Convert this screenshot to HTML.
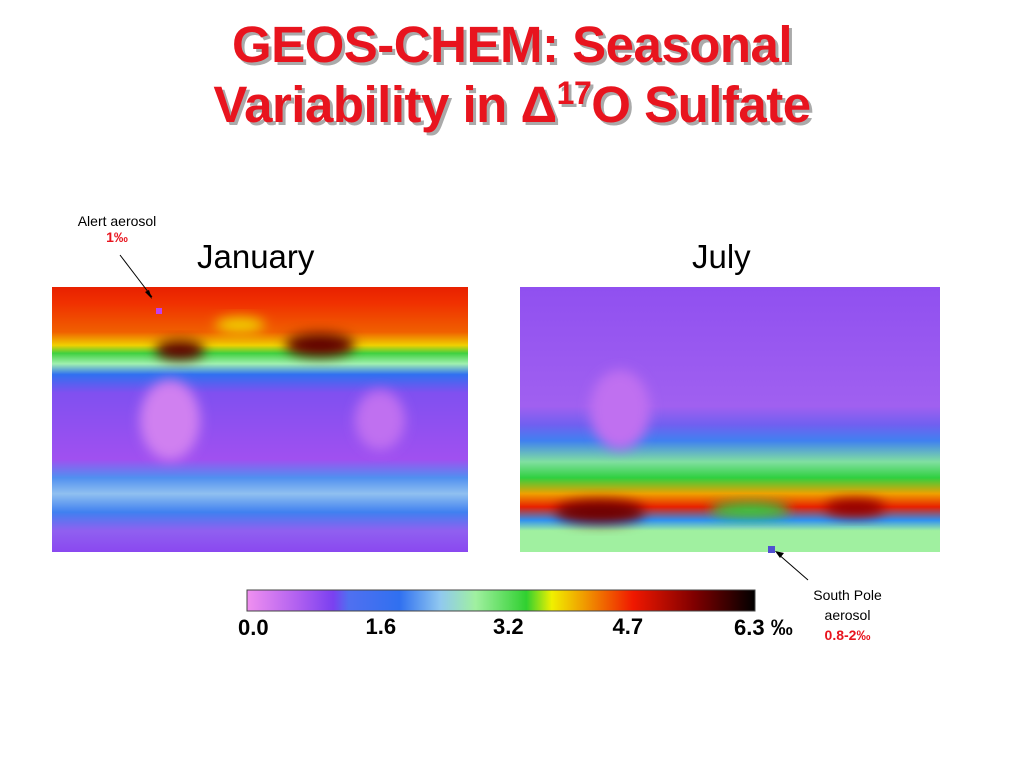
<!DOCTYPE html>
<html><head><meta charset="utf-8">
<style>
body{margin:0;width:1024px;height:768px;background:#fff;overflow:hidden;position:relative;font-family:"Liberation Sans",sans-serif}
.t{position:absolute;left:0;width:1024px;text-align:center;color:#e8141e;font-weight:bold;font-size:51px;text-shadow:3px 3px 0 #aaa;letter-spacing:-0.5px;line-height:58px}
.lbl{position:absolute;font-size:33px;color:#000}
.s{position:absolute;font-size:14px;color:#000;text-align:center}
.tick{position:absolute;font-size:22px;font-weight:bold;color:#000}
</style></head><body>
<div class="t" style="top:16px">GEOS-CHEM: Seasonal</div>
<div class="t" style="top:76px">Variability in &#916;<sup style="font-size:32px;line-height:0">17</sup>O Sulfate</div>
<div class="s" style="left:62px;top:213px;width:110px">Alert aerosol<br><b style="color:#e8141e">1‰</b></div>
<div class="lbl" style="left:197px;top:238px">January</div>
<div class="lbl" style="left:692px;top:238px">July</div>
<div class="s" style="left:795px;top:585px;width:105px;line-height:20px">South Pole<br>aerosol<br><b style="color:#e8141e">0.8-2‰</b></div>
<svg width="1024" height="768" style="position:absolute;left:0;top:0">
<defs>
<filter id="b" x="-50%" y="-50%" width="200%" height="200%"><feGaussianBlur stdDeviation="6"/></filter>
<linearGradient id="jan" x1="0" y1="0" x2="0" y2="1">
<stop offset="0" stop-color="#e82000"/><stop offset="0.06" stop-color="#f03000"/>
<stop offset="0.17" stop-color="#f06000"/><stop offset="0.22" stop-color="#f0d000"/>
<stop offset="0.25" stop-color="#40d040"/><stop offset="0.29" stop-color="#a0f0b0"/>
<stop offset="0.33" stop-color="#3070f0"/><stop offset="0.40" stop-color="#8050f0"/>
<stop offset="0.65" stop-color="#a050f0"/><stop offset="0.72" stop-color="#5090f0"/>
<stop offset="0.78" stop-color="#90c0f0"/><stop offset="0.85" stop-color="#4080f0"/>
<stop offset="0.92" stop-color="#9060f0"/><stop offset="1" stop-color="#8a48f0"/>
</linearGradient>
<linearGradient id="jul" x1="0" y1="0" x2="0" y2="1">
<stop offset="0" stop-color="#9050f0"/><stop offset="0.45" stop-color="#a060f0"/>
<stop offset="0.52" stop-color="#7060f0"/><stop offset="0.58" stop-color="#4080f0"/>
<stop offset="0.66" stop-color="#80e0a0"/><stop offset="0.72" stop-color="#30d040"/>
<stop offset="0.78" stop-color="#f0a000"/><stop offset="0.83" stop-color="#e82000"/>
<stop offset="0.88" stop-color="#3090f0"/><stop offset="0.92" stop-color="#a0f0a0"/>
<stop offset="1" stop-color="#a0f0a0"/>
</linearGradient>
<linearGradient id="cb" x1="0" y1="0" x2="1" y2="0">
<stop offset="0" stop-color="#f090f0"/><stop offset="0.1" stop-color="#b060f0"/>
<stop offset="0.17" stop-color="#7a40f0"/><stop offset="0.2" stop-color="#5070f0"/>
<stop offset="0.3" stop-color="#3070f0"/><stop offset="0.38" stop-color="#90c8f0"/>
<stop offset="0.45" stop-color="#a0f0a0"/><stop offset="0.55" stop-color="#30d030"/>
<stop offset="0.6" stop-color="#f0f000"/><stop offset="0.66" stop-color="#f0a000"/>
<stop offset="0.76" stop-color="#f01800"/><stop offset="0.88" stop-color="#800000"/>
<stop offset="1" stop-color="#000"/>
</linearGradient>
</defs>
<g>
<rect x="52" y="287" width="416" height="265" fill="url(#jan)"/>
<ellipse cx="180" cy="350" rx="25" ry="10" fill="#600000" filter="url(#b)"/>
<ellipse cx="320" cy="345" rx="35" ry="12" fill="#600000" filter="url(#b)"/>
<ellipse cx="240" cy="325" rx="25" ry="8" fill="#f0d000" filter="url(#b)"/>
<ellipse cx="170" cy="420" rx="30" ry="40" fill="#d080f0" filter="url(#b)"/>
<ellipse cx="380" cy="420" rx="25" ry="30" fill="#c070f0" filter="url(#b)"/>
<rect x="156" y="308" width="6" height="6" fill="#c040f0"/>
</g>
<g>
<rect x="520" y="287" width="420" height="265" fill="url(#jul)"/>
<ellipse cx="600" cy="512" rx="45" ry="12" fill="#700000" filter="url(#b)"/>
<ellipse cx="855" cy="508" rx="30" ry="9" fill="#900000" filter="url(#b)"/>
<ellipse cx="750" cy="510" rx="40" ry="8" fill="#30d040" filter="url(#b)"/>
<ellipse cx="620" cy="410" rx="30" ry="40" fill="#c070f0" filter="url(#b)"/>
<rect x="768" y="546" width="7" height="7" fill="#5050d0"/>
</g>
<line x1="120" y1="255" x2="152" y2="297" stroke="#000" stroke-width="1"/>
<polygon points="152,299 145,292 149,290" fill="#000"/>
<line x1="808" y1="580" x2="777" y2="553" stroke="#000" stroke-width="1"/>
<polygon points="775,551 784,553 780,558" fill="#000"/>
<rect x="247" y="590" width="508" height="21" fill="url(#cb)" stroke="#444"/>
</svg>
<script>
const tickLabels=["0.0","1.6","3.2","4.7","6.3 ‰"];
const tickValues=[0,1.6,3.2,4.7,6.3];
const vmin=0,vmax=6.3,x0=256,x1=758;
tickLabels.forEach((t,i)=>{
 const d=document.createElement('div');
 d.className='tick';
 
 
 d.textContent=t;
 const x=x0+(tickValues[i]-vmin)/(vmax-vmin)*(x1-x0);
 d.style.left=(i==4?x-24:x-18)+'px';
 d.style.top=(i==0||i==4?615:614)+'px';
 document.body.appendChild(d);
});
</script>
</body></html>
